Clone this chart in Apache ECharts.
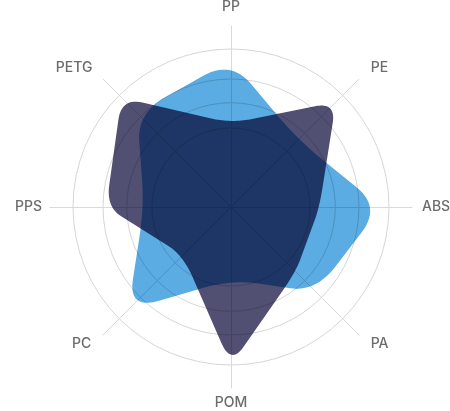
<!DOCTYPE html>
<html>
<head>
<meta charset="utf-8">
<script src="https://cdn.jsdelivr.net/npm/echarts@6/dist/echarts.min.js"></script>
<style>html,body{margin:0;padding:0;background:#fff}#c{width:450px;height:411px}</style>
</head>
<body>
<div id="c"></div>
<script>
// Indicators in clockwise order starting at the top
const indicators = ['PP', 'PE', 'ABS', 'PA', 'POM', 'PC', 'PPS', 'PETG'];
// Values on a 0-100 scale (100 = outer grid ring)
const seriesBlue = [93, 60, 95, 76, 46, 92, 55, 84];
const seriesDark = [53, 94, 56, 58, 100, 43, 79, 98];
// Grid ring levels on the same scale
const ringLevels = [50, 66, 81, 100];

const center = [231, 207];
const outerR = 158;
const axisR = 181;
const cornerBlue = 0.3;
const cornerDark = 0.2;
// extra label padding [top, right, bottom, left] per indicator
const labelPad = {
  PP: [0, 0, 4, 0], PE: [0, 0, 12, 6], ABS: [0, 0, 0, 2], PA: [7, 0, 0, 6],
  POM: [0, 0, 0, 0], PC: [7, 6, 0, 0], PPS: [0, 0, 0, 0], PETG: [0, 5, 12, 0]
};

const chart = echarts.init(document.getElementById('c'), null, {renderer: 'canvas'});

// ECharts radar places indicators counter-clockwise
const ccw = [indicators[0]].concat(indicators.slice(1).reverse());

const labelFont = {color: '#6c6c6c', fontSize: 14, fontWeight: 500, fontFamily: 'Inter'};
const rich = {};
indicators.forEach((n, i) => { rich['k' + i] = Object.assign({padding: labelPad[n]}, labelFont); });

const radars = [{
  center: center, radius: axisR, shape: 'circle', startAngle: 90, splitNumber: 1,
  indicator: ccw.map(n => ({name: n, max: 100})),
  axisName: Object.assign({
    formatter: function (name) { return '{k' + indicators.indexOf(name) + '|' + name + '}'; },
    rich: rich
  }, labelFont),
  nameGap: 8,
  axisLine: {lineStyle: {color: '#d9d9d9', width: 1}},
  splitLine: {show: false}, splitArea: {show: false}
}];
ringLevels.forEach(l => radars.push({
  center: center, radius: outerR * l / 100, shape: 'circle', startAngle: 90, splitNumber: 1,
  indicator: ccw.map(n => ({name: '', max: 100})),
  axisName: {show: false}, axisLine: {show: false},
  splitLine: {lineStyle: {color: '#d6d6d6', width: 1}}, splitArea: {show: false}
}));

// round each corner with a quadratic curve whose ends sit a fraction along each edge
function roundCorners(pts, f, steps) {
  const n = pts.length, out = [];
  for (let i = 0; i < n; i++) {
    const P = pts[i], A = pts[(i - 1 + n) % n], B = pts[(i + 1) % n];
    const T1 = [P[0] + (A[0] - P[0]) * f, P[1] + (A[1] - P[1]) * f];
    const T2 = [P[0] + (B[0] - P[0]) * f, P[1] + (B[1] - P[1]) * f];
    for (let s = 0; s <= steps; s++) {
      const t = s / steps, u = 1 - t;
      out.push([u * u * T1[0] + 2 * u * t * P[0] + t * t * T2[0],
                u * u * T1[1] + 2 * u * t * P[1] + t * t * T2[1]]);
    }
  }
  return out;
}

function shapeSeries(name, values, color, f, z) {
  const data = values.map((v, i) => [v, i * 360 / values.length]);
  return {
    type: 'custom', name: name, coordinateSystem: 'polar', data: data, z: z,
    encode: {radius: 0, angle: 1},
    renderItem: function (params, api) {
      if (params.dataIndex !== 0) return null;
      const pts = data.map(d => api.coord(d));
      return {
        type: 'polygon',
        name: 'blendShape',
        shape: {points: roundCorners(pts, f, 20)},
        style: {fill: color}
      };
    }
  };
}

chart.setOption({
  backgroundColor: '#ffffff',
  animation: false,
  radar: radars,
  polar: {center: center, radius: outerR},
  angleAxis: {type: 'value', min: 0, max: 360, startAngle: 90, clockwise: true, show: false},
  radiusAxis: {type: 'value', min: 0, max: 100, show: false},
  series: [
    shapeSeries('A', seriesBlue, '#5AACE3', cornerBlue, 2),
    shapeSeries('B', seriesDark, '#514F72', cornerDark, 3)
  ]
});

// multiply blending so overlaps and grid lines show through
const zr = chart.getZr();
zr.storage.traverse(function (el) {
  if (el.name === 'blendShape' && el.style) {
    el.style.blend = 'multiply';
    el.dirty && el.dirty();
  }
});
zr.refreshImmediately();
</script>
</body>
</html>
